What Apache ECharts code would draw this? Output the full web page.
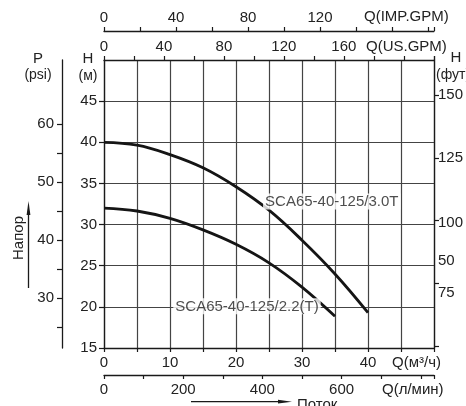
<!DOCTYPE html>
<html><head><meta charset="utf-8">
<script src="https://cdn.jsdelivr.net/npm/echarts@6/dist/echarts.min.js"></script>
<style>html,body{margin:0;padding:0;background:#fff}#c{width:466px;height:406px}</style>
</head><body><div id="c"></div>
<script>
// Curve data (Q in m3/h, H in m)
const flow30 = [0, 5, 10, 15, 20, 25, 30, 35, 40];
const head30 = [40, 39.65, 38.5, 36.9, 34.6, 31.75, 28.1, 24.0, 19.3];
const flow22 = [0, 5, 10, 15, 20, 25, 30, 35];
const head22 = [32.0, 31.65, 30.75, 29.35, 27.6, 25.35, 22.4, 18.85];
const curveNames = ['SCA65-40-125/3.0T', 'SCA65-40-125/2.2(T)'];
const curveLabelQ = [24.1, 10.5];
const curveLabelH = [32.8, 20.06];

// Axis ticks / labels
const m3hLabels = [0, 10, 20, 30, 40];
const lminLabels = [0, 200, 400, 600];
const usLabels = [0, 40, 80, 120, 160];
const impLabels = [0, 40, 80, 120];
const hTicks = [15, 20, 25, 30, 35, 40, 45];
const psiTicks = [25, 30, 35, 40, 45, 50, 55, 60];
const psiLabels = [30, 40, 50, 60];
const ftTicks = [50, 75, 100, 125, 150];
const ftLabelValues = [150, 125, 99, 84, 71];
const ftLabelTexts = ['150', '125', '100', '50', '75'];

// Unit conversions
const Qmin = 0, Qmax = 50, Hmin = 15, Hmax = 50;
const US = 4.40287, IMP = 3.66615, LMIN = 16.6667, PSI = 1.42233, FT = 3.28084;

const FONT = 'Liberation Sans, Arial, sans-serif';
const TXT = '#222';
const LINE = '#1a1a1a';
const GRIDC = '#444';

function pairs(xs, ys) { return xs.map((x, i) => [x, ys[i]]); }
const lbl = (arr) => (v) => arr.some(a => Math.abs(a - v) < 1e-6) ? String(v) : '';

const chart = echarts.init(document.getElementById('c'), null, {renderer: 'canvas'});
const axisBase = {
  type: 'value',
  axisLine: {show: true, onZero: false, lineStyle: {color: LINE, width: 1.3}},
  axisTick: {show: true, inside: false, length: 4, lineStyle: {color: LINE, width: 1.2}},
  axisLabel: {color: TXT, fontFamily: FONT, fontSize: 15},
  splitLine: {show: false},
  minorTick: {show: false}
};

const option = {
  animation: false,
  backgroundColor: '#fff',
  grid: {left: 104, right: 30, top: 60, bottom: 58, containLabel: false},
  xAxis: [
    Object.assign({}, axisBase, {
      position: 'bottom', min: Qmin, max: Qmax, interval: 5,
      axisLabel: Object.assign({}, axisBase.axisLabel, {margin: 7, formatter: lbl(m3hLabels), showMaxLabel: true}),
      splitLine: {show: true, lineStyle: {color: GRIDC, width: 1.2}}
    }),
    Object.assign({}, axisBase, {
      position: 'bottom', offset: 27, min: Qmin * LMIN, max: Qmax * LMIN, interval: 100,
      axisLabel: Object.assign({}, axisBase.axisLabel, {margin: 7, formatter: lbl(lminLabels)})
    }),
    Object.assign({}, axisBase, {
      position: 'top', offset: 0, min: Qmin * US, max: Qmax * US, interval: 20,
      axisLabel: Object.assign({}, axisBase.axisLabel, {margin: 6, formatter: lbl(usLabels)})
    }),
    Object.assign({}, axisBase, {
      position: 'top', offset: 29, min: Qmin * IMP, max: Qmax * IMP, interval: 20,
      axisLabel: Object.assign({}, axisBase.axisLabel, {margin: 6, formatter: lbl(impLabels)})
    })
  ],
  yAxis: [
    Object.assign({}, axisBase, {
      position: 'left', min: Hmin, max: Hmax, interval: 2.5,
      axisTick: Object.assign({}, axisBase.axisTick, {length: 5, customValues: hTicks}),
      axisLabel: Object.assign({}, axisBase.axisLabel, {margin: 7, customValues: hTicks}),
      splitLine: {show: true, lineStyle: {color: GRIDC, width: 1.2}}
    }),
    Object.assign({}, axisBase, {
      position: 'left', offset: 42, min: Hmin * PSI, max: Hmax * PSI,
      axisTick: Object.assign({}, axisBase.axisTick, {length: 5, customValues: psiTicks}),
      axisLabel: Object.assign({}, axisBase.axisLabel, {margin: 8, customValues: psiLabels})
    }),
    Object.assign({}, axisBase, {
      position: 'right', offset: 0, min: Hmin * FT, max: Hmax * FT,
      axisTick: Object.assign({}, axisBase.axisTick, {length: 5, customValues: ftTicks}),
      axisLabel: Object.assign({}, axisBase.axisLabel, {margin: 4, customValues: ftLabelValues,
        formatter: (v) => { let bi = 0; ftLabelValues.forEach((a, i) => { if (Math.abs(a - v) < Math.abs(ftLabelValues[bi] - v)) bi = i; }); return ftLabelTexts[bi]; }})
    })
  ],
  series: [
    {type: 'line', name: curveNames[0], xAxisIndex: 0, yAxisIndex: 0, data: pairs(flow30, head30), smooth: 0.4,
     showSymbol: false, lineStyle: {color: '#151515', width: 2.8}, z: 3},
    {type: 'line', name: curveNames[1], xAxisIndex: 0, yAxisIndex: 0, data: pairs(flow22, head22), smooth: 0.4,
     showSymbol: false, lineStyle: {color: '#151515', width: 2.8}, z: 3},
    {type: 'scatter', xAxisIndex: 0, yAxisIndex: 0, symbolSize: 0, z: 5,
     data: curveNames.map((n, i) => ({value: [curveLabelQ[i], curveLabelH[i]], name: n})),
     label: {show: true, position: [0, 0], align: 'left', verticalAlign: 'middle',
       formatter: (p) => p.name, color: TXT, fontFamily: FONT, fontSize: 15,
       backgroundColor: '#fff', padding: [1, 2, 0, 2]}}
  ],
  graphic: [
    {type: 'text', x: 38, y: 59, style: {text: 'P', font: '15px ' + FONT, fill: TXT, align: 'center', verticalAlign: 'middle'}},
    {type: 'text', x: 38, y: 75, style: {text: '(psi)', font: '14px ' + FONT, fill: TXT, align: 'center', verticalAlign: 'middle'}},
    {type: 'text', x: 88, y: 59, style: {text: 'H', font: '15px ' + FONT, fill: TXT, align: 'center', verticalAlign: 'middle'}},
    {type: 'text', x: 88, y: 76, style: {text: '(м)', font: '14px ' + FONT, fill: TXT, align: 'center', verticalAlign: 'middle'}},
    {type: 'text', x: 456, y: 58, style: {text: 'H', font: '15px ' + FONT, fill: TXT, align: 'center', verticalAlign: 'middle'}},
    {type: 'text', x: 436, y: 75, style: {text: '(фут)', font: '14px ' + FONT, fill: TXT, align: 'left', verticalAlign: 'middle'}},
    {type: 'text', x: 364, y: 17, style: {text: 'Q(IMP.GPM)', font: '15px ' + FONT, fill: TXT, align: 'left', verticalAlign: 'middle'}},
    {type: 'text', x: 366, y: 47, style: {text: 'Q(US.GPM)', font: '15px ' + FONT, fill: TXT, align: 'left', verticalAlign: 'middle'}},
    {type: 'text', x: 392, y: 363, style: {text: 'Q(м³/ч)', font: '15px ' + FONT, fill: TXT, align: 'left', verticalAlign: 'middle'}},
    {type: 'text', x: 382, y: 390, style: {text: 'Q(л/мин)', font: '15px ' + FONT, fill: TXT, align: 'left', verticalAlign: 'middle'}},
    {type: 'text', x: 19, y: 238, rotation: Math.PI / 2, style: {text: 'Напор', font: '15px ' + FONT, fill: TXT, align: 'center', verticalAlign: 'middle'}},
    {type: 'line', shape: {x1: 28.5, y1: 288, x2: 28.5, y2: 212}, style: {stroke: LINE, lineWidth: 1.3}},
    {type: 'polygon', shape: {points: [[28.5, 201], [26.6, 215], [30.4, 215]]}, style: {fill: LINE}},
    {type: 'text', x: 297, y: 405, style: {text: 'Поток', font: '15px ' + FONT, fill: TXT, align: 'left', verticalAlign: 'middle'}},
    {type: 'line', shape: {x1: 191, y1: 401.7, x2: 281, y2: 401.7}, style: {stroke: LINE, lineWidth: 1.3}},
    {type: 'polygon', shape: {points: [[292, 401.7], [278, 399.8], [278, 403.6]]}, style: {fill: LINE}}
  ]
};
chart.setOption(option);
</script>
</body></html>
